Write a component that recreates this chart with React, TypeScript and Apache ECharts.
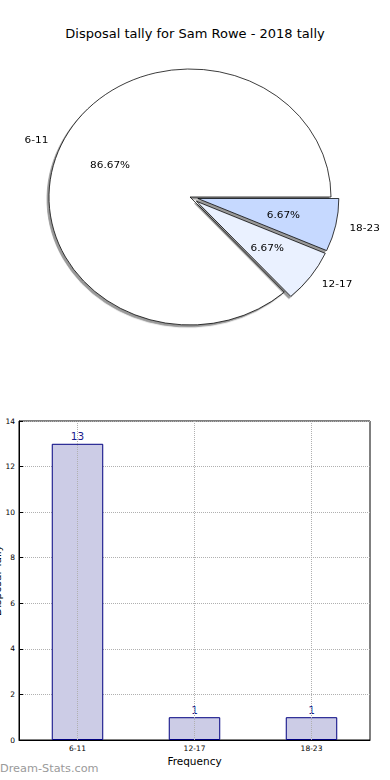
import React, { useEffect, useRef } from 'react';
import * as echarts from 'echarts';

const FONT = '"DejaVu Sans", "Noto Sans", sans-serif';
const TITLE = 'Disposal tally for Sam Rowe - 2018 tally';
const categories = ['6-11', '12-17', '18-23'];
const tallies = [13, 1, 1];
const sliceColors = ['#ffffff', '#eaf1ff', '#c6d9ff'];
const exploded = [false, true, true];
const yMin = 0;
const yMax = 14;
const yStep = 2;
const xAxisName = 'Frequency';
const yAxisName = 'Disposal Tally';
const watermark = 'Dream-Stats.com';

export default function App() {
  const mainRef = useRef<HTMLDivElement>(null);
  const pieRef = useRef<HTMLDivElement>(null);

  useEffect(() => {
    const main = echarts.init(mainRef.current!, undefined, { renderer: 'svg' });
    const pie = echarts.init(pieRef.current!, undefined, { renderer: 'svg' });
    const total = tallies.reduce((a, b) => a + b, 0);

    main.setOption({
      animation: false,
      backgroundColor: '#ffffff',
      title: {
        text: TITLE,
        left: 'center',
        top: 22,
        textStyle: { fontFamily: FONT, fontSize: 13, fontWeight: 'normal', color: '#000' },
      },
      grid: {
        left: 19, right: 20, top: 421, bottom: 40,
        outerBoundsMode: 'none',
        containLabel: false,
        show: true, borderColor: '#000', borderWidth: 1, backgroundColor: 'transparent',
      },
      xAxis: {
        type: 'category',
        data: categories,
        axisLine: { show: true, lineStyle: { color: '#000', width: 1 } },
        axisTick: { show: true, alignWithLabel: true, inside: true, length: 4, lineStyle: { color: '#000' } },
        axisLabel: { fontFamily: FONT, fontSize: 7.5, color: '#000', margin: 4 },
        splitLine: { show: false },
        name: xAxisName,
        nameLocation: 'middle',
        nameGap: 15,
        nameMoveOverlap: false,
        nameTextStyle: { fontFamily: FONT, fontSize: 10.5, color: '#000' },
      },
      yAxis: {
        type: 'value',
        min: yMin, max: yMax, interval: yStep,
        axisLine: { show: true, lineStyle: { color: '#000', width: 1 } },
        axisTick: { show: true, inside: true, length: 4, lineStyle: { color: '#000' } },
        axisLabel: { fontFamily: FONT, fontSize: 7.5, color: '#000', margin: 4 },
        splitLine: { show: true, lineStyle: { type: 'dotted', color: '#b0b0b0', width: 1 } },
        name: yAxisName,
        nameLocation: 'middle',
        nameGap: 17,
        nameMoveOverlap: false,
        nameTextStyle: { fontFamily: FONT, fontSize: 10.5, color: '#000' },
      },
      series: [
        {
          type: 'bar',
          data: tallies,
          barWidth: '44%',
          itemStyle: { color: '#ccccE6', borderColor: '#000080', borderWidth: 1 },
          label: { show: true, position: 'top', distance: 2, color: '#1a1a8c', fontFamily: FONT, fontSize: 10.5 },
          emphasis: { disabled: true },
          markLine: {
            silent: true,
            symbol: ['none', 'none'],
            label: { show: false },
            lineStyle: { type: 'dotted', color: '#b0b0b0', width: 1 },
            data: categories.map((c) => ({ xAxis: c })),
          },
        },
      ],
      graphic: [
        {
          type: 'text',
          left: 0,
          top: 763,
          style: { text: watermark, fill: '#9a9a9a', font: `11.3px ${FONT}` },
        },
      ],
    });

    const pct = (p: any) => ((p.value / total) * 100).toFixed(2) + '%';

    pie.setOption({
      animation: false,
      series: [
        {
          type: 'pie',
          silent: true,
          center: [190, 197],
          radius: 141,
          startAngle: 0,
          clockwise: false,
          avoidLabelOverlap: false,
          selectedMode: 'multiple',
          selectedOffset: 8,
          emphasis: { disabled: true },
          data: categories.map((c, i) => ({
            name: c, value: tallies[i], selected: exploded[i],
            itemStyle: { color: sliceColors[i] },
          })),
          itemStyle: {
            borderColor: '#000', borderWidth: 0.8,
            shadowColor: 'rgba(0,0,0,0.4)', shadowBlur: 0, shadowOffsetX: -2, shadowOffsetY: 2.4,
          },
          label: {
            show: true, position: 'outside', formatter: '{b}',
            fontFamily: FONT, fontSize: 10.5, color: '#000', distanceToLabelLine: 0,
          },
          labelLine: { show: false, length: 14, length2: 0 },
        },
        {
          type: 'pie',
          silent: true,
          center: [190, 197],
          radius: [28, 141],
          startAngle: 0,
          clockwise: false,
          avoidLabelOverlap: false,
          selectedMode: 'multiple',
          selectedOffset: 8,
          emphasis: { disabled: true },
          data: categories.map((c, i) => ({ name: c, value: tallies[i], selected: exploded[i] })),
          itemStyle: { color: 'rgba(0,0,0,0)', borderWidth: 0 },
          label: {
            show: true, position: 'inside', formatter: pct,
            fontFamily: FONT, fontSize: 10.5, color: '#000',
          },
          labelLine: { show: false },
        },
      ],
    });

    return () => {
      main.dispose();
      pie.dispose();
    };
  }, []);

  return (
    <div style={{ position: 'fixed', left: 0, top: 0, width: 390, height: 780, background: '#fff' }}>
      <div ref={mainRef} style={{ position: 'absolute', left: 0, top: 0, width: 390, height: 780 }} />
      <div
        ref={pieRef}
        style={{
          position: 'absolute', left: 0, top: 0, width: 390, height: 400,
          transform: 'scaleY(0.9078)', transformOrigin: '190px 197px',
        }}
      />
    </div>
  );
}
